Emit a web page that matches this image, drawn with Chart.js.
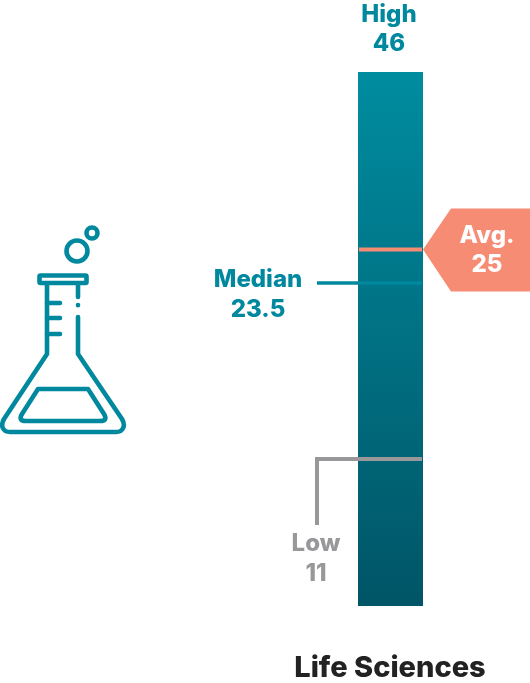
<!DOCTYPE html>
<html>
<head>
<meta charset="utf-8">
<title>Life Sciences</title>
<script src="https://cdn.jsdelivr.net/npm/chart.js@4/dist/chart.umd.js"></script>
<style>
    html, body { margin: 0; padding: 0; background: #fff; }
    #wrap { position: relative; width: 530px; height: 683px; overflow: hidden; }
    #chart { position: absolute; left: 0; top: 0; }
    #flask { position: absolute; left: 0; top: 210px; }
</style>
</head>
<body>
<div id="wrap">
    <canvas id="chart" width="530" height="683"></canvas>
    <!-- flask icon, decoration only -->
    <svg id="flask" width="140" height="240" viewBox="0 210 140 240" fill="none" stroke="#00899E" stroke-width="4.6" stroke-linecap="round" stroke-linejoin="round">
        <circle cx="77" cy="251" r="10.5"/>
        <circle cx="92" cy="233" r="5.5"/>
        <rect x="39.5" y="275.5" width="47" height="7.5" rx="1"/>
        <path d="M47 285V354L4 419C0 426 3 432 10 432H116C123 432 126 426 122 419L78 354V317"/>
        <path d="M78 285V297M78 305V305.2"/>
        <path d="M47 303H60M47 318H60M47 334H60"/>
        <path d="M38 389H88L104 414C107 419 105 421 100 421H26C21 421 19 419 22 414Z"/>
    </svg>
</div>
<script>
const categories = ['Life Sciences'];
const highValue = 46;
const avgValue = 25;
const medianValue = 23.5;
const lowValue = 11;

// the picture's axis is not linear, so value stops map to a share of the bar height
const axisStops = [0, 11, 23.5, 25, 46];
const axisShares = [0, 0.2753, 0.6049, 0.6676, 1];

const fontName = 'Inter, "Noto Sans", sans-serif';
const teal = '#00899E';
const coral = '#F78C75';
const grey = '#98989B';

class PiecewiseScale extends Chart.LinearScale {
    getPixelForValue(value) {
        let i = 0;
        while (i < axisStops.length - 2 && value > axisStops[i + 1]) i++;
        const t = (value - axisStops[i]) / (axisStops[i + 1] - axisStops[i]);
        const share = axisShares[i] + t * (axisShares[i + 1] - axisShares[i]);
        return this.bottom - share * (this.bottom - this.top);
    }
}
PiecewiseScale.id = 'piecewise';
PiecewiseScale.defaults = Chart.LinearScale.defaults;
Chart.register(PiecewiseScale);

function drawLabel(ctx, text, x, y, color, size) {
    ctx.fillStyle = color;
    ctx.font = `800 ${size || 24}px ${fontName}`;
    ctx.textAlign = 'center';
    ctx.textBaseline = 'middle';
    ctx.fillText(text, x, y);
}

function strokeLine(ctx, color, width, points) {
    ctx.strokeStyle = color;
    ctx.lineWidth = width;
    ctx.beginPath();
    points.forEach((p, i) => (i ? ctx.lineTo(p[0], p[1]) : ctx.moveTo(p[0], p[1])));
    ctx.stroke();
}

// marker lines and callouts, placed through the y scale
const markers = {
    id: 'markers',
    afterDatasetsDraw(chart) {
        const { ctx, scales: { y }, chartArea: area } = chart;
        const left = area.left + 1;
        const right = area.right - 1;
        const yAvg = y.getPixelForValue(avgValue);
        const yMedian = y.getPixelForValue(medianValue);
        const yLow = y.getPixelForValue(lowValue);
        const yHigh = y.getPixelForValue(highValue);
        ctx.save();

        drawLabel(ctx, 'High', 389, yHigh - 57, teal);
        drawLabel(ctx, String(highValue), 389, yHigh - 28, teal);

        // avg
        strokeLine(ctx, coral, 4, [[left, yAvg], [right, yAvg]]);
        ctx.fillStyle = coral;
        ctx.beginPath();
        ctx.moveTo(area.right, yAvg);
        ctx.lineTo(451, yAvg - 41);
        ctx.lineTo(530, yAvg - 41);
        ctx.lineTo(530, yAvg + 42);
        ctx.lineTo(451, yAvg + 42);
        ctx.closePath();
        ctx.fill();
        drawLabel(ctx, 'Avg.', 487, yAvg - 14, '#fff');
        drawLabel(ctx, String(avgValue), 487, yAvg + 15, '#fff');

        // median
        strokeLine(ctx, teal, 3.5, [[317, yMedian], [right, yMedian]]);
        drawLabel(ctx, 'Median', 258, yMedian - 3, teal);
        drawLabel(ctx, String(medianValue), 258, yMedian + 27, teal);

        // low
        ctx.lineJoin = 'miter';
        strokeLine(ctx, grey, 4, [[right, yLow], [317, yLow], [317, yLow + 66]]);
        drawLabel(ctx, 'Low', 316, yLow + 85, grey);
        drawLabel(ctx, String(lowValue), 316, yLow + 115, grey);

        drawLabel(ctx, categories[0], 390, area.bottom + 62, '#222', 29);
        ctx.restore();
    },
};

new Chart(document.getElementById('chart').getContext('2d'), {
    type: 'bar',
    data: {
        labels: categories,
        datasets: [{
            data: [highValue],
            barPercentage: 1,
            categoryPercentage: 1,
            borderWidth: 0,
            backgroundColor(context) {
                const area = context.chart.chartArea;
                if (!area) return teal;
                const gradient = context.chart.ctx.createLinearGradient(0, area.top, 0, area.bottom);
                gradient.addColorStop(0, '#008C9F');
                gradient.addColorStop(1, '#005566');
                return gradient;
            },
        }],
    },
    options: {
        responsive: false,
        animation: false,
        layout: { padding: { left: 358, right: 107, top: 72, bottom: 77 } },
        scales: {
            x: { display: false },
            y: { type: 'piecewise', display: false, min: 0, max: highValue },
        },
        plugins: { legend: { display: false }, tooltip: { enabled: false } },
    },
    plugins: [markers],
});
</script>
</body>
</html>
